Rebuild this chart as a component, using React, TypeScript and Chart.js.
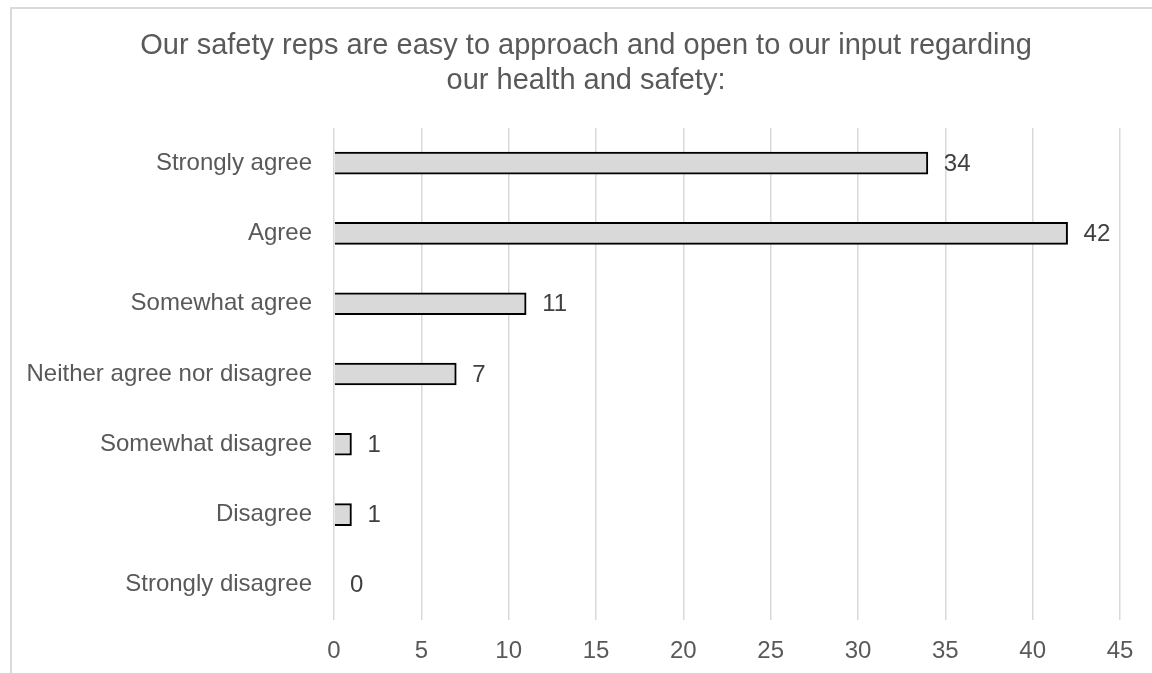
import React, { useEffect, useRef } from "react";
import { Chart, registerables } from "chart.js";

Chart.register(...registerables);

const titleLines = [
  "Our safety reps are easy to approach and open to our input regarding",
  "our health and safety:",
];

const categories = [
  "Strongly agree",
  "Agree",
  "Somewhat agree",
  "Neither agree nor disagree",
  "Somewhat disagree",
  "Disagree",
  "Strongly disagree",
];

const responses = [34, 42, 11, 7, 1, 1, 0];

const xMin = 0;
const xMax = 45;
const xStep = 5;

const FONT = "'Liberation Sans', Arial, sans-serif";
const TEXT = "#595959";
const GRID = "#d9d9d9";

// Two-line heading, centred on the framed panel rather than on the plot.
const heading = {
  id: "heading",
  afterDraw(chart: any) {
    const { ctx } = chart;
    ctx.save();
    ctx.font = `29px ${FONT}`;
    ctx.fillStyle = TEXT;
    ctx.textAlign = "center";
    ctx.textBaseline = "alphabetic";
    titleLines.forEach((line, i) => {
      ctx.fillText(line, 586, 54 + i * 35);
    });
    ctx.restore();
  },
};

// Writes each bar's count just past its end.
const valueLabels = {
  id: "valueLabels",
  afterDatasetsDraw(chart: any) {
    const { ctx } = chart;
    const meta = chart.getDatasetMeta(0);
    ctx.save();
    ctx.font = `24px ${FONT}`;
    ctx.fillStyle = "#404040";
    ctx.textAlign = "left";
    ctx.textBaseline = "middle";
    meta.data.forEach((bar: any, i: number) => {
      ctx.fillText(String(responses[i]), bar.x + 16, bar.y + 1);
    });
    ctx.restore();
  },
};

export default function App() {
  const canvasRef = useRef<HTMLCanvasElement | null>(null);

  useEffect(() => {
    if (!canvasRef.current) return;
    const chart = new Chart(canvasRef.current, {
      type: "bar",
      data: {
        labels: categories,
        datasets: [
          {
            data: responses,
            backgroundColor: "#d9d9d9",
            borderColor: "#000000",
            borderWidth: 2,
            borderSkipped: "start",
            barThickness: 22,
          },
        ],
      },
      options: {
        indexAxis: "y",
        responsive: false,
        animation: false,
        maintainAspectRatio: false,
        layout: { padding: { left: 20, right: 32, top: 128, bottom: 0 } },
        plugins: {
          legend: { display: false },
          tooltip: { enabled: false },
          title: { display: false },
        },
        scales: {
          x: {
            min: xMin,
            max: xMax,
            border: { display: false },
            grid: { color: GRID, lineWidth: 1.5, drawTicks: false },
            ticks: {
              stepSize: xStep,
              color: TEXT,
              padding: 17,
              font: { family: FONT, size: 24 },
            },
            afterFit(scale: any) {
              scale.height = 53;
              scale.paddingLeft = 0;
              scale.paddingRight = 0;
            },
          },
          y: {
            border: { display: false },
            grid: { display: false, drawTicks: false },
            ticks: {
              color: TEXT,
              padding: 22,
              autoSkip: false,
              font: { family: FONT, size: 24 },
            },
            afterFit(scale: any) {
              scale.width = 314;
              scale.paddingTop = 0;
              scale.paddingBottom = 0;
            },
          },
        },
      },
      plugins: [heading, valueLabels],
    });
    return () => chart.destroy();
  }, []);

  return (
    <div
      style={{
        position: "absolute",
        left: 0,
        top: 0,
        width: 1152,
        height: 673,
        overflow: "hidden",
        background: "#ffffff",
      }}
    >
      <div
        style={{
          position: "absolute",
          left: 10,
          top: 7,
          width: 1200,
          height: 720,
          border: "2px solid #dadada",
          boxSizing: "border-box",
        }}
      />
      <canvas
        ref={canvasRef}
        width={1152}
        height={673}
        style={{ position: "absolute", left: 0, top: 0 }}
      />
    </div>
  );
}
